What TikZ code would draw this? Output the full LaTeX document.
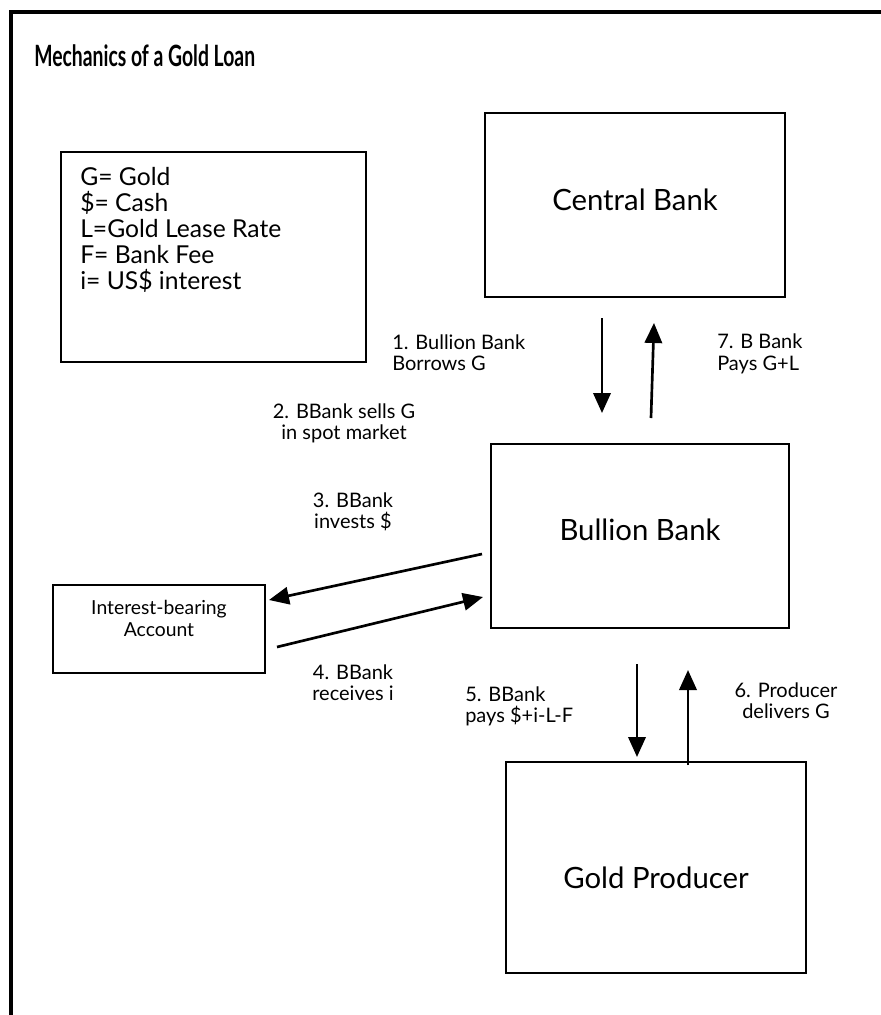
\documentclass[tikz,border=0pt]{standalone}
\usepackage{fontspec}
\setmainfont{Lato}
\newfontfamily\titlefont[FakeStretch=0.66]{Lato}
\usetikzlibrary{arrows.meta}

\begin{document}
\begin{tikzpicture}
    [   x = 0.75pt, y = -0.75pt
    ,   > = {Triangle[length=15pt, width=13pt]}
    ,   box/.style = {draw, line width = 1.9pt, inner sep = 0pt, align = center, font = \fontsize{22}{26}\selectfont}
    ,   flow/.style = {->, line width = 2pt}
    ,   note/.style = {inner sep = 0pt, font = \fontsize{15}{16}\selectfont}
    ]
    \useasboundingbox (0,0) rectangle (881,1015);
    \draw[line width = 2.3pt] (11,1015) -- (11,12) -- (881,12);

    \node[inner sep = 0pt, anchor = west, font = \titlefont\bfseries\fontsize{22}{24}\selectfont] (title) at (34,56) {Mechanics of a Gold Loan};

    % legend
    \node[box, minimum width = 305*0.75pt, minimum height = 210*0.75pt] (legend) at (213.5,257) {};
    \node[inner sep = 0pt, anchor = west, align = left, font = \fontsize{18.5}{19.5}\selectfont] (key) at (80,230)
        {G= Gold\\ \$= Cash\\ L=Gold Lease Rate\\ F= Bank Fee\\ i= US\$ interest};

    % parties
    \node[box, minimum width = 300*0.75pt, minimum height = 184*0.75pt, text depth = 7.5pt] (cb) at (635,205) {Central Bank};
    \node[box, minimum width = 298*0.75pt, minimum height = 184*0.75pt, text depth = 9pt] (bb) at (640,536) {Bullion Bank};
    \node[box, minimum width = 212*0.75pt, minimum height = 88*0.75pt, font = \fontsize{14.5}{16}\selectfont] (acct) at (159,629)
        {Interest-bearing\\ Account\\ \mbox{}};
    \node[box, minimum width = 300*0.75pt, minimum height = 211*0.75pt, text height = 32pt] (prod) at (656,867.5) {Gold Producer};

    % arrow ends
    \coordinate (a1s) at (602,318);   \coordinate (a1e) at (602,413);
    \coordinate (a7s) at (651,418);   \coordinate (a7e) at (654,323);
    \coordinate (a3s) at (482,554);   \coordinate (a3e) at (269,600);
    \coordinate (a4s) at (277,647);   \coordinate (a4e) at (483,597);
    \coordinate (a5s) at (637,664);   \coordinate (a5e) at (637,757);
    \coordinate (a6s) at (688,765);   \coordinate (a6e) at (688,670);
    \foreach\s in {1,7,3,4,5,6}
        \draw[flow] (a\s s) -- (a\s e);

    % steps
    \node[note, anchor = west, align = left] (s1) at (392,352.5) {1. Bullion Bank\\ Borrows G};
    \node[note, align = center] (s2) at (344,423.5) {2. BBank sells G\\ in spot market};
    \node[note, align = center] (s3) at (353,512) {3. BBank\\ invests \$};
    \node[note, align = center] (s4) at (353,683) {4. BBank\\ receives i};
    \node[note, anchor = west, align = left] (s5) at (465,706.5) {5. BBank\\ pays \$+i-L-F};
    \node[note, align = center] (s6) at (786,700.5) {6. Producer\\ delivers G};
    \node[note, anchor = west, align = left] (s7) at (717,354) {7. B Bank\\ Pays G+L};
\end{tikzpicture}
\end{document}
